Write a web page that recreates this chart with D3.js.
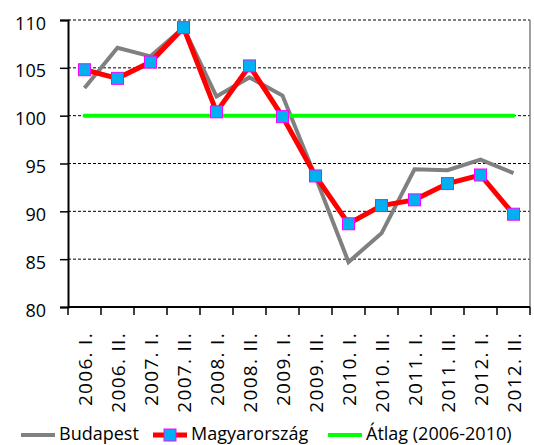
<!DOCTYPE html>
<html>
<head>
<meta charset="utf-8">
<script src="https://cdn.jsdelivr.net/npm/d3@7"></script>
<style>
  body { margin: 0; background: #fff; }
  text { font-family: "Open Sans", sans-serif; fill: #000; }
</style>
</head>
<body>
<div id="chart"></div>
<script>
const width = 534, height = 445
const margin = {top: 20, right: 4, bottom: 138, left: 68}

// categories (half years)
const periods = ["2006. I.", "2006. II.", "2007. I.", "2007. II.", "2008. I.", "2008. II.",
  "2009. I.", "2009. II.", "2010. I.", "2010. II.", "2011. I.", "2011. II.", "2012. I.", "2012. II."]
const budapest = [102.9, 107.1, 106.2, 109.2, 102.0, 104.0, 102.1, 93.6, 84.7, 87.7, 94.4, 94.3, 95.4, 94.0]
const magyarorszag = [104.8, 103.9, 105.6, 109.2, 100.4, 105.2, 99.9, 93.7, 88.7, 90.6, 91.2, 92.9, 93.8, 89.7]
const atlag = [100, 100, 100, 100, 100, 100, 100, 100, 100, 100, 100, 100, 100, 100]
const yTicks = [80, 85, 90, 95, 100, 105, 110]
const seriesNames = ["Budapest", "Magyarország", "Átlag (2006-2010)"]

const svg = d3.select("#chart").append("svg")
  .attr("width", width).attr("height", height)

const iw = width - margin.left - margin.right
const ih = height - margin.top - margin.bottom
const g = svg.append("g").attr("transform", `translate(${margin.left},${margin.top})`)

const x = d3.scaleBand().domain(periods).range([0, iw])
const y = d3.scaleLinear().domain([80, 110]).range([ih, 0])
const cx = d => x(d) + x.bandwidth() / 2

// dashed gridlines
g.selectAll(".grid").data(yTicks.filter(t => t > 80)).enter()
  .append("line")
  .attr("x1", 0).attr("x2", iw)
  .attr("y1", d => y(d)).attr("y2", d => y(d))
  .attr("stroke", "#000").attr("stroke-width", 1)
  .attr("stroke-dasharray", "3,2")

// right border
g.append("line").attr("x1", iw).attr("x2", iw).attr("y1", 0).attr("y2", ih)
  .attr("stroke", "#808080").attr("stroke-width", 1.5)

// y axis
const yAxis = g.append("g")
  .call(d3.axisLeft(y).tickValues(yTicks).tickSize(8).tickPadding(14))
yAxis.select(".domain").attr("stroke-width", 2)
yAxis.selectAll(".tick line").attr("stroke-width", 1.5)
yAxis.selectAll("text").style("font-size", "18px").attr("fill", "#000").attr("dy", "0.5em")

// x axis: ticks at category boundaries
const xAxis = g.append("g").attr("transform", `translate(0,${ih})`)
xAxis.append("line").attr("x1", 0).attr("x2", iw).attr("stroke", "#000").attr("stroke-width", 2)
xAxis.selectAll(".xt").data(d3.range(periods.length + 1)).enter()
  .append("line")
  .attr("x1", i => i * x.step()).attr("x2", i => i * x.step())
  .attr("y1", 0).attr("y2", 8)
  .attr("stroke", "#000").attr("stroke-width", 1.5)
xAxis.selectAll(".xl").data(periods).enter()
  .append("text")
  .attr("transform", d => `translate(${cx(d) + 7},25) rotate(-90)`)
  .attr("text-anchor", "end")
  .style("font-size", "19px")
  .style("letter-spacing", "1.3px")
  .text(d => d)

const line = d3.line().x((d, i) => cx(periods[i])).y(d => y(d))

g.append("path").datum(budapest).attr("d", line)
  .attr("fill", "none").attr("stroke", "#808080").attr("stroke-width", 4)
g.append("path").datum(atlag).attr("d", line)
  .attr("fill", "none").attr("stroke", "#00ff00").attr("stroke-width", 4).attr("stroke-linecap", "round")
g.append("path").datum(magyarorszag).attr("d", line)
  .attr("fill", "none").attr("stroke", "#ff0000").attr("stroke-width", 5)

const ms = 12
g.selectAll(".mk").data(magyarorszag).enter()
  .append("rect")
  .attr("x", (d, i) => cx(periods[i]) - ms / 2)
  .attr("y", d => y(d) - ms / 2)
  .attr("width", ms).attr("height", ms)
  .attr("fill", "#00b0f0").attr("stroke", "#ff00ff").attr("stroke-width", 1)

// legend
const legend = svg.append("g").attr("transform", "translate(0,435)")
const lx = [21, 153, 328]
seriesNames.forEach((name, i) => {
  const lg = legend.append("g").attr("transform", `translate(${lx[i]},0)`)
  const color = ["#808080", "#ff0000", "#00ff00"][i]
  lg.append("line").attr("x1", 0).attr("x2", 34).attr("y1", 0).attr("y2", 0)
    .attr("stroke", color).attr("stroke-width", i === 1 ? 5 : 4)
  if (i === 1) {
    lg.append("rect").attr("x", 17 - ms / 2).attr("y", -ms / 2).attr("width", ms).attr("height", ms)
      .attr("fill", "#00b0f0").attr("stroke", "#ff00ff")
  }
  lg.append("text").attr("x", 38).attr("y", 5).style("font-size", "18px").text(name)
})
</script>
</body>
</html>
